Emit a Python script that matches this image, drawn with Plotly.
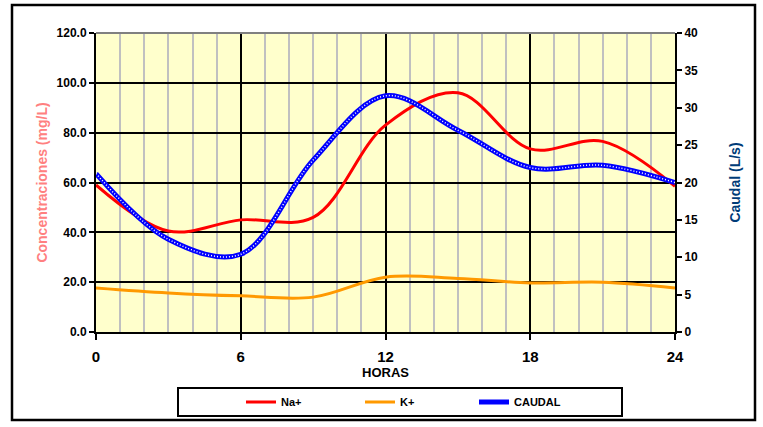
import plotly.graph_objects as go

horas = [0, 3, 6, 9, 12, 15, 18, 21, 24]
na_plus = [59.0, 40.5, 45.0, 46.0, 83.0, 96.0, 73.5, 76.5, 58.5]
k_plus = [17.7, 15.7, 14.5, 14.0, 22.0, 21.5, 19.7, 20.0, 17.7]
caudal = [21.2, 12.4, 10.4, 23.0, 31.6, 27.0, 22.0, 22.3, 20.0]
x_ticks = [0, 6, 12, 18, 24]

W, H = 763, 427
L, R, T, B = 96, 675, 33, 332
pw, ph = R - L, B - T

def px(x):
    return (x - L) / pw

def py(y):
    return (B - y) / ph

FONT = "Liberation Sans"

fig = go.Figure()
fig.add_trace(go.Scatter(x=horas, y=na_plus, name="Na+", mode="lines", legend="legend",
                         line=dict(color="#FF0000", width=3, shape="spline", smoothing=1.0)))
fig.add_trace(go.Scatter(x=horas, y=k_plus, name="K+", mode="lines", legend="legend2",
                         line=dict(color="#FF9900", width=3, shape="spline", smoothing=1.0)))
fig.add_trace(go.Scatter(x=horas, y=caudal, name="CAUDAL", mode="lines", yaxis="y2", legend="legend3",
                         line=dict(color="#0000FF", width=5, shape="spline", smoothing=1.0)))
fig.add_trace(go.Scatter(x=horas, y=caudal, name="CAUDAL_dots", mode="lines", yaxis="y2",
                         showlegend=False, hoverinfo="skip",
                         line=dict(color="#FFFFFF", width=1.5, dash="1px,2px", shape="spline", smoothing=1.0)))

leg_common = dict(orientation="h", xanchor="left", y=py(402), yanchor="middle",
                  bgcolor="rgba(0,0,0,0)", borderwidth=0,
                  font=dict(family=FONT, size=11, color="black", weight="bold"))

fig.update_layout(
    width=W, height=H,
    margin=dict(l=L, r=W - R, t=T, b=H - B, autoexpand=False),
    paper_bgcolor="white",
    plot_bgcolor="#FFFFCC",
    font=dict(family=FONT, color="black"),
    xaxis=dict(
        range=[0, 24], tickvals=x_ticks, ticktext=[str(v) for v in x_ticks],
        showgrid=True, gridcolor="black", gridwidth=1.5,
        minor=dict(dtick=1, tick0=0, showgrid=True, gridcolor="#C0C0C0", gridwidth=2),
        showline=True, linecolor="black", linewidth=2,
        ticks="outside", ticklen=6, tickwidth=2, tickcolor="black",
        tickfont=dict(family=FONT, size=15, color="black", weight="bold"),
        ticklabelstandoff=4,
        title=dict(text="<b>HORAS</b>", font=dict(family=FONT, size=13, color="black"), standoff=2),
        zeroline=False, automargin=False,
    ),
    yaxis=dict(
        range=[0, 120], dtick=20, tickformat=".1f",
        showgrid=True, gridcolor="black", gridwidth=1.5,
        showline=True, linecolor="black", linewidth=2,
        ticks="outside", ticklen=5, tickwidth=2, tickcolor="black",
        tickfont=dict(family=FONT, size=12, color="black", weight="bold"),
        title=dict(text="<b>Concentraciones (mg/L)</b>", font=dict(family=FONT, size=14, color="#FF8080"), standoff=6),
        zeroline=False, automargin=False,
    ),
    yaxis2=dict(
        range=[0, 40], dtick=5, overlaying="y", side="right",
        showgrid=False, showline=True, linecolor="black", linewidth=2,
        ticks="outside", ticklen=5, tickwidth=2, tickcolor="black",
        tickfont=dict(family=FONT, size=12, color="black", weight="bold"),
        title=dict(text="<b>Caudal (L/s)</b>", font=dict(family=FONT, size=14, color="#003C78"), standoff=33),
        zeroline=False, automargin=False,
    ),
    legend=dict(x=px(241), **leg_common),
    legend2=dict(x=px(360), **leg_common),
    legend3=dict(x=px(474), **leg_common),
    shapes=[
        dict(type="line", xref="paper", yref="paper", x0=0, x1=1, y0=1, y1=1,
             line=dict(color="#808080", width=2)),
        dict(type="rect", xref="paper", yref="paper", x0=px(178), x1=px(622), y0=py(388), y1=py(416),
             line=dict(color="black", width=2), fillcolor="rgba(0,0,0,0)"),
        dict(type="rect", xref="paper", yref="paper", x0=px(12), x1=px(755), y0=py(5), y1=py(420),
             line=dict(color="black", width=2.5), fillcolor="rgba(0,0,0,0)"),
    ],
    showlegend=True,
)

fig.write_html("out.html", config={"displayModeBar": False},
               post_script="document.body.style.margin='0';document.body.style.overflow='hidden';")
